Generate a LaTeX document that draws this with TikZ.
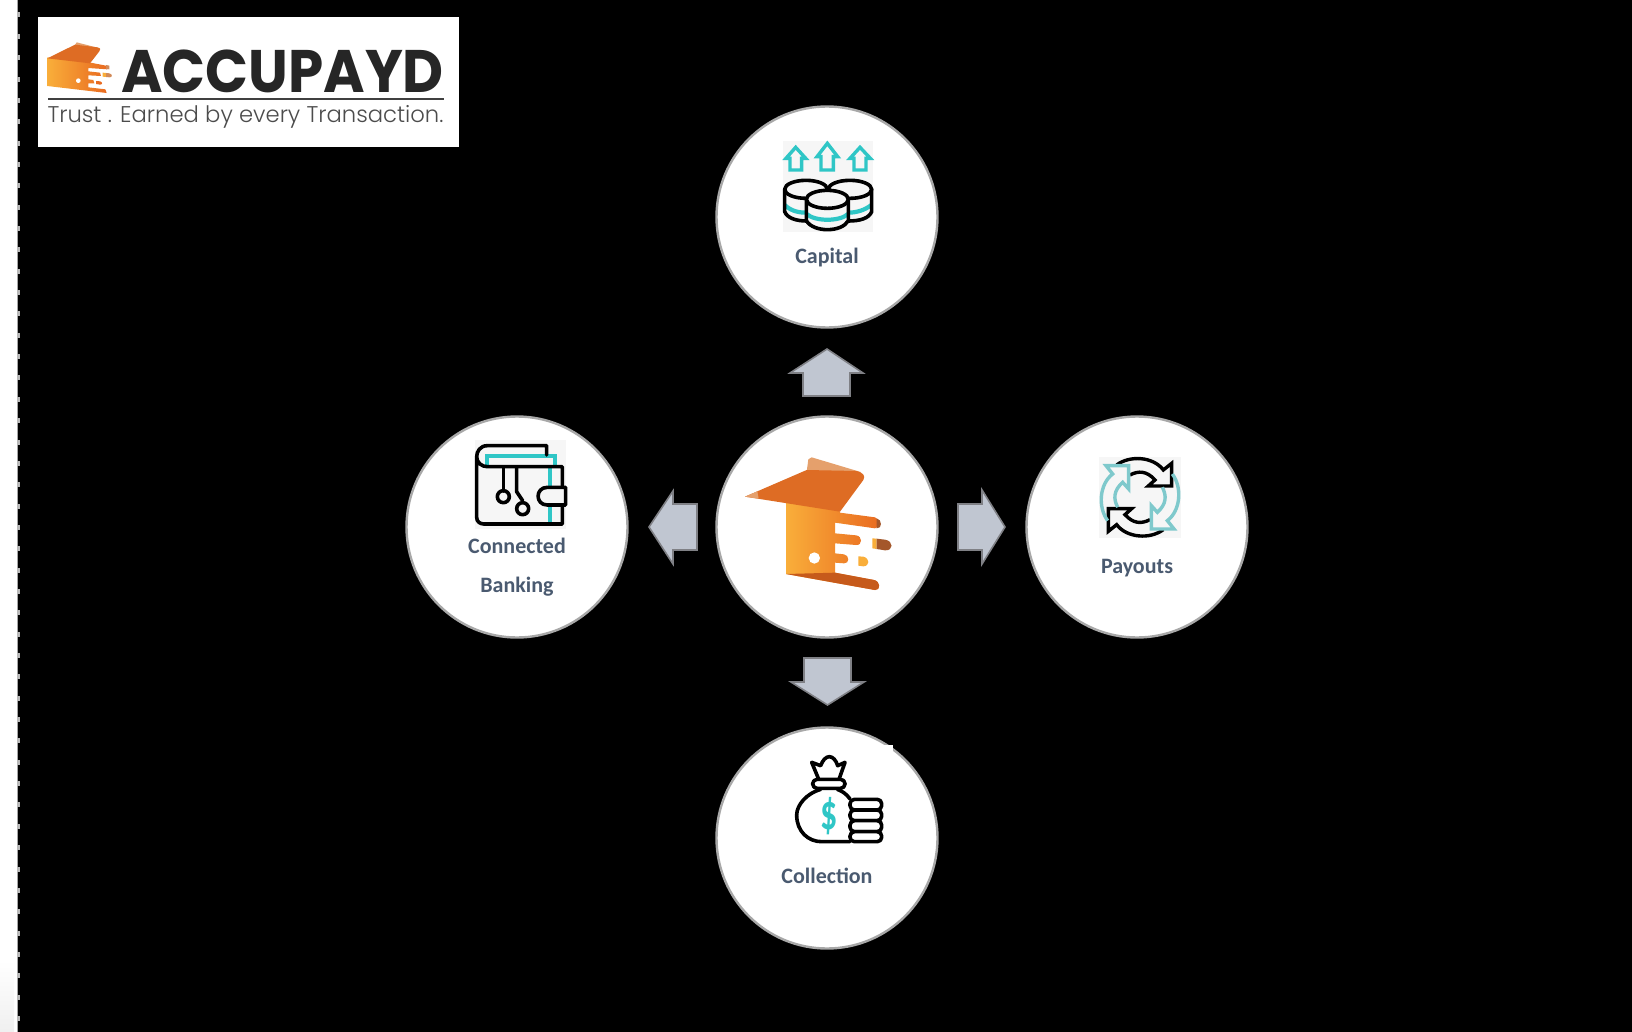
\documentclass[tikz,border=0pt]{standalone}
\usepackage{fontspec}
\usepackage{graphicx}
\setmainfont{Carlito}
\newfontfamily\poppinsbold{Poppins}[UprightFont=* Bold]
\newfontfamily\poppinslight{Poppins}[UprightFont=* Light]
\definecolor{slatetext}{HTML}{4A5A70}
\definecolor{ringgrey}{HTML}{A8A8A8}
\definecolor{arrowfill}{HTML}{C0C6D1}
\definecolor{arrowedge}{HTML}{7F8085}
\definecolor{tealicon}{HTML}{2FC6C6}
\definecolor{tealpale}{HTML}{7FC9CC}
\definecolor{iconbg}{HTML}{F6F6F6}
\definecolor{roof}{HTML}{DE6C24}
\definecolor{roofpale}{HTML}{E5A06C}
\definecolor{bodyA}{HTML}{F9AE3A}
\definecolor{bodyB}{HTML}{E96A20}
\definecolor{tipbrown}{HTML}{A4572A}
\tikzset{
  ringnode/.style={circle,draw=ringgrey,line width=1.2pt,fill=white,minimum size=110.5pt,inner sep=0pt},
  labeltext/.style={font=\fontsize{11}{12}\selectfont\bfseries,text=slatetext,anchor=base,inner sep=0pt},
  blockarrow/.style={fill=arrowfill,draw=arrowedge,line width=0.8pt,line join=miter},
  iconline/.style={draw=black,line width=1.8pt,line join=round,line cap=round},
  tealline/.style={draw=tealicon,line width=1.7pt,line join=miter},
  tealband/.style={draw=tealicon,line width=2.1pt},
  zoomunits/.style={x=0.16667pt,y=-0.16667pt},
}
\newcommand{\brandmark}{%
  \shade[left color=bodyA,right color=bodyB]
    (258,300) -- (415,322) -- (420,338) -- (525,352) .. controls (540,355) and (540,385) .. (525,385) -- (405,368)
    -- (405,400) -- (468,406) .. controls (488,408) and (488,437) .. (468,435) -- (405,430)
    -- (405,460) -- (432,463) .. controls (449,465) and (449,492) .. (432,490) -- (405,488)
    -- (405,518) -- (522,540) .. controls (542,544) and (542,572) .. (525,570) -- (258,522) -- cycle;
  \fill[bodyB!85!black] (258,522) -- (405,518) -- (522,540) .. controls (542,544) and (542,572) .. (525,570) -- cycle;
  \fill[roofpale] (320,215) -- (325,178) -- (335,172) -- (482,216) -- (470,250) -- cycle;
  \fill[roof] (135,290) -- (320,210) -- (470,213) .. controls (490,218) and (497,228) .. (490,240) -- (420,335) -- cycle;
  \fill[roofpale] (135,290) -- (172,274) -- (176,296) -- cycle;
  \fill[white] (343,474) circle[x radius=17,y radius=17];
  \fill[tipbrown] (530,355) .. controls (547,358) and (547,387) .. (530,385) -- cycle;
  \fill[bodyA] (475,469) -- (490,470) .. controls (510,475) and (510,498) .. (490,499) -- (475,497) -- cycle;
  \fill[bodyA] (517,415) -- (530,416) -- (530,447) -- (517,445) -- cycle;
  \fill[tipbrown] (530,416) -- (555,419) .. controls (582,423) and (580,453) .. (555,451) -- (530,447) -- cycle;
}
\newcommand{\logomark}{%
  \shade[left color=bodyA,right color=bodyB]
    (142,172) -- (272,188) -- (318,197) -- (322,208) -- (265,204)
    -- (265,214) -- (300,218) -- (303,228) -- (265,226)
    -- (265,238) -- (280,240) -- (283,250) -- (265,250)
    -- (265,262) -- (316,268) -- (320,279) -- (142,258) -- cycle;
  \fill[roofpale] (225,135) -- (230,127) -- (300,145) -- (280,170) -- cycle;
  \fill[roof] (142,175) -- (225,134) -- (292,142) .. controls (302,145) and (303,148) .. (298,154) -- (270,190) -- cycle;
  \fill[white] (235,242) circle[x radius=7,y radius=7];
  \fill[bodyB] (288,243) -- (300,244) .. controls (308,246) and (308,254) .. (300,254) -- (288,252) -- cycle;
  \fill[bodyA] (308,218) -- (318,219) -- (318,231) -- (308,230) -- cycle;
  \fill[roofpale!70!tipbrown] (318,219) -- (328,220) .. controls (338,222) and (338,233) .. (328,232) -- (318,231) -- cycle;
  \fill[roofpale!70!tipbrown] (318,195) -- (328,197) -- (328,208) -- (318,207) -- cycle;
}
\newcommand{\syncarrow}[1]{%
  \draw[#1,line width=1.7pt,line join=miter]
    (-70,-97) .. controls (-30,-127) and (40,-122) .. (70,-82)
    -- (95,-102) -- (95,-34) -- (25,-34) -- (45,-52)
    .. controls (20,-80) and (-5,-80) .. (-30,-67);
}
\begin{document}
\begin{tikzpicture}[x=0.5pt,y=-0.5pt]
\useasboundingbox (0,0) rectangle (1632,1032);
% page
\fill[black] (0,0) rectangle (1632,1032);
\fill[white] (0,0) rectangle (17.5,1032);
\shade[top color=white,bottom color=black!6] (0,960) rectangle (14,1032);
\draw[black!35,line width=0.4pt] (17.7,0) -- (17.7,1032);
\foreach \k in {0,...,47}{\fill[black!28] (17,{12.5+21.35*\k}) rectangle (20,{17.5+21.35*\k});}

% logo
\fill[white] (37.5,17) rectangle (459,147);
\begin{scope}[zoomunits]\logomark\end{scope}
\node[anchor=base,inner sep=0pt,text=black!85] (logoname) at (282.5,93) {\scalebox{0.94}[1]{\poppinsbold\fontsize{30}{32}\selectfont ACCUPAYD}};
\coordinate (ruleL) at (48,99);
\coordinate (ruleR) at (444,99);
\draw[black!75,line width=0.6pt] (ruleL) -- (ruleR);
\node[anchor=base,inner sep=0pt,text=black!70] (tagline) at (245.5,122.5) {\poppinslight\fontsize{11.35}{13}\selectfont Trust . Earned by every Transaction.};

% rings
\node[ringnode] (capital) at (827,217) {};
\node[ringnode] (hub) at (827,527) {};
\node[ringnode] (banking) at (517,527) {};
\node[ringnode] (payouts) at (1137,527) {};
\node[ringnode] (collection) at (827,838) {};
\fill[white] (880,745) rectangle (893,755);

% block arrows
\draw[blockarrow] (827,349) -- (863,373) -- (850,373) -- (850,396) -- (803,396) -- (803,373) -- (790,373) -- cycle;
\draw[blockarrow] (1005,527) -- (982,564) -- (982,550) -- (958,550) -- (958,504) -- (982,504) -- (982,490) -- cycle;
\draw[blockarrow] (649,527) -- (673,491) -- (673,504) -- (697,504) -- (697,550) -- (673,550) -- (673,564) -- cycle;
\draw[blockarrow] (827.5,705) -- (864,682) -- (851,682) -- (851,658) -- (804,658) -- (804,682) -- (791,682) -- cycle;

% labels
\node[labeltext] (capitallabel) at (827,263.5) {Capital};
\node[labeltext] (bankinglabelA) at (517,553.5) {Connected};
\node[labeltext] (bankinglabelB) at (517,592) {Banking};
\node[labeltext] (payoutslabel) at (1137,573) {Payouts};
\node[labeltext] (collectionlabel) at (827,883) {Collection};

% capital icon
\begin{scope}[shift={(700,90)},zoomunits]
  \fill[iconbg] (250,153) rectangle (518,425);
  \draw[tealline] (287,172) -- (317,205) -- (305,205) -- (305,240) -- (270,240) -- (270,205) -- (258,205) -- cycle;
  \draw[tealline] (382,160) -- (413,200) -- (400,200) -- (400,240) -- (363,240) -- (363,200) -- (351,200) -- cycle;
  \draw[tealline] (480,172) -- (511,205) -- (498,205) -- (498,240) -- (462,240) -- (462,205) -- (450,205) -- cycle;
  % left coin
  \path[fill=iconbg] (254,298) -- (254,370) .. controls (270,392) and (320,395) .. (382,390) -- (382,298) -- cycle;
  \draw[tealband] (254,345) .. controls (275,365) and (300,368) .. (320,368);
  \draw[iconline] (254,298) -- (254,365) .. controls (262,385) and (290,393) .. (320,393);
  \draw[iconline,fill=iconbg] (318,298) ellipse[x radius=64,y radius=27];
  % right coin
  \draw[tealband] (445,368) .. controls (470,368) and (495,360) .. (514,345);
  \draw[iconline] (515,298) -- (515,365) .. controls (507,385) and (480,393) .. (445,393);
  \draw[iconline,fill=iconbg] (450,298) ellipse[x radius=65,y radius=27];
  % front coin
  \path[fill=iconbg] (319,330) -- (319,392) .. controls (340,428) and (425,428) .. (445,392) -- (445,330) -- cycle;
  \draw[tealband] (320,372) .. controls (345,395) and (420,395) .. (444,372);
  \draw[iconline] (319,330) -- (319,392) .. controls (340,428) and (425,428) .. (445,392) -- (445,330);
  \draw[iconline,fill=iconbg] (382,328) ellipse[x radius=63,y radius=27];
\end{scope}

% hub mark
\begin{scope}[shift={(700,400)},zoomunits]\brandmark\end{scope}

% wallet icon
\begin{scope}[shift={(400,410)},zoomunits]
  \fill[iconbg] (225,90) rectangle (497,358);
  \draw[tealband] (262,170) -- (262,138) -- (465,138) -- (465,170);
  \draw[tealband] (450,170) -- (450,342);
  \draw[iconline] (440,135) -- (440,107) -- (262,107) .. controls (240,107) and (230,125) .. (230,140) -- (230,322) .. controls (230,335) and (240,342) .. (252,342) -- (487,342) -- (487,170) -- (262,170) .. controls (245,170) and (230,158) .. (230,140);
  \draw[iconline,fill=iconbg] (497,232) -- (442,232) .. controls (405,232) and (405,285) .. (442,285) -- (497,285) -- cycle;
  \draw[iconline] (310,172) -- (310,243);
  \draw[iconline] (310,260) circle[x radius=18,y radius=18];
  \draw[iconline] (350,172) -- (350,245) -- (368,272);
  \draw[iconline] (368,296) circle[x radius=18,y radius=18];
\end{scope}

% payouts icon
\begin{scope}[shift={(1020,410)},zoomunits]
  \fill[iconbg] (237,140) rectangle (482,385);
\end{scope}
\begin{scope}[shift={(1140,497.3)},zoomunits]
  \syncarrow{black}
  \begin{scope}[rotate=180]\syncarrow{black}\end{scope}
  \begin{scope}[rotate=90]\syncarrow{tealpale}\end{scope}
  \begin{scope}[rotate=270]\syncarrow{tealpale}\end{scope}
\end{scope}

% collection icon
\begin{scope}[shift={(700,650)},zoomunits]
  \draw[iconline,fill=white] (362,418) .. controls (320,430) and (290,465) .. (290,495) .. controls (290,545) and (325,575) .. (365,575) -- (450,575);
  \draw[iconline] (412,418) .. controls (430,425) and (440,433) .. (450,447);
  \draw[iconline,fill=white,rounded corners=2.2pt] (450,448) rectangle (545,480);
  \draw[iconline,fill=white,rounded corners=2.2pt] (450,480) rectangle (545,512);
  \draw[iconline,fill=white,rounded corners=2.2pt] (450,512) rectangle (545,545);
  \draw[iconline,fill=white,rounded corners=2.2pt] (450,545) rectangle (545,575);
  \draw[iconline,fill=white,rounded corners=2.2pt] (338,388) rectangle (435,415);
  \draw[iconline] (355,385) -- (335,337) -- (362,347) .. controls (368,330) and (378,320) .. (388,320) .. controls (398,320) and (408,330) .. (413,347) -- (435,337) -- (418,385);
  \node[inner sep=0pt,text=tealicon] (dollar) at (386,497) {\scalebox{0.85}[1.25]{\fontsize{20}{22}\selectfont\bfseries\$}};
\end{scope}
\end{tikzpicture}
\end{document}
